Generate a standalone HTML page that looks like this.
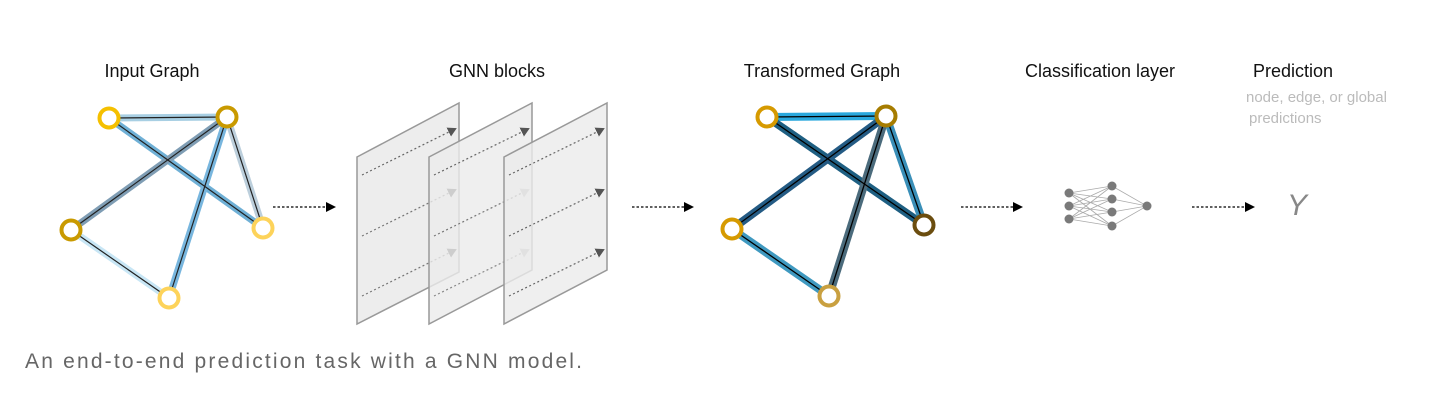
<!DOCTYPE html>
<html><head><meta charset="utf-8"><style>
html,body{margin:0;padding:0;background:#fff;}
svg{display:block;}
text{font-family:"Liberation Sans",sans-serif;}
</style></head><body>
<svg width="1430" height="400" viewBox="0 0 1430 400" xmlns="http://www.w3.org/2000/svg">
<defs>
<marker id="ah" markerWidth="10" markerHeight="10" refX="8" refY="5" orient="auto" markerUnits="userSpaceOnUse"><path d="M0,0 L10,5 L0,10 z" fill="#000"/></marker>
<marker id="ag" markerWidth="9" markerHeight="10" refX="7" refY="5" orient="auto" markerUnits="userSpaceOnUse"><path d="M0,0 L9,5 L0,10 z" fill="#555"/></marker>
<marker id="al" markerWidth="9" markerHeight="10" refX="7" refY="5" orient="auto" markerUnits="userSpaceOnUse"><path d="M0,0 L9,5 L0,10 z" fill="#bbb"/></marker>
</defs>
<g font-size="18" fill="#111" text-anchor="middle">
<text x="152" y="77">Input Graph</text>
<text x="497" y="77">GNN blocks</text>
<text x="822" y="77">Transformed Graph</text>
<text x="1100" y="77">Classification layer</text>
<text x="1293" y="77">Prediction</text>
</g>
<text x="1246" y="102" font-size="15" fill="#bbb">node, edge, or global</text>
<text x="1249" y="123" font-size="15" fill="#bbb">predictions</text>
<text x="25" y="368" font-size="21" fill="#666" textLength="557">An end-to-end prediction task with a GNN model.</text>

<!-- Input graph -->
<g stroke-linecap="butt">
<line x1="109" y1="118" x2="227" y2="117" stroke="#a8cfe3" stroke-width="7"/>
<line x1="109" y1="118" x2="263" y2="228" stroke="#6fb0d6" stroke-width="7"/>
<line x1="227" y1="117" x2="71" y2="230" stroke="#7f9db4" stroke-width="7"/>
<line x1="227" y1="117" x2="169" y2="298" stroke="#78b6de" stroke-width="7"/>
<line x1="227" y1="117" x2="263" y2="228" stroke="#bccfdc" stroke-width="7"/>
<line x1="71" y1="230" x2="169" y2="298" stroke="#c8e6f5" stroke-width="7"/>
<g stroke="#222" stroke-width="1.2">
<line x1="109" y1="118" x2="227" y2="117"/><line x1="109" y1="118" x2="263" y2="228"/>
<line x1="227" y1="117" x2="71" y2="230"/><line x1="227" y1="117" x2="169" y2="298"/>
<line x1="227" y1="117" x2="263" y2="228"/><line x1="71" y1="230" x2="169" y2="298"/>
</g>
</g>
<g fill="#fff" stroke-width="4">
<circle cx="109" cy="118" r="9.5" stroke="#f5c000"/>
<circle cx="227" cy="117" r="9.5" stroke="#c99a00"/>
<circle cx="71" cy="230" r="9.5" stroke="#c99a00"/>
<circle cx="263" cy="228" r="9.5" stroke="#fdd35a"/>
<circle cx="169" cy="298" r="9.5" stroke="#fdd35a"/>
</g>

<!-- arrows -->
<g stroke="#000" stroke-width="1.3" stroke-dasharray="2.5,2" marker-end="url(#ah)">
<line x1="273" y1="207" x2="334" y2="207"/>
<line x1="632" y1="207" x2="692" y2="207"/>
<line x1="961" y1="207" x2="1021" y2="207"/>
<line x1="1192" y1="207" x2="1253" y2="207"/>
</g>

<!-- GNN planes -->
<g stroke-width="1.2" stroke-dasharray="2,2.5" fill="none">
<polygon points="357,157 459,103 459,272 357,324" fill="#ebebeb" fill-opacity="0.9" stroke="#999" stroke-dasharray="none" stroke-width="1.5"/>
<line x1="362" y1="175" x2="455" y2="129" stroke="#666" marker-end="url(#ag)"/>
<line x1="362" y1="236" x2="455" y2="190" stroke="#777" marker-end="url(#ag)"/>
<line x1="362" y1="296" x2="455" y2="250" stroke="#777" marker-end="url(#ag)"/>
<polygon points="429,157 532,103 532,270 429,324" fill="#ebebeb" fill-opacity="0.8" stroke="#999" stroke-dasharray="none" stroke-width="1.5"/>
<line x1="434" y1="175" x2="528" y2="129" stroke="#666" marker-end="url(#ag)"/>
<line x1="434" y1="236" x2="528" y2="190" stroke="#777" marker-end="url(#al)"/>
<line x1="434" y1="296" x2="528" y2="250" stroke="#888" marker-end="url(#al)"/>
<polygon points="504,157 607,103 607,270 504,324" fill="#ebebeb" fill-opacity="0.8" stroke="#999" stroke-dasharray="none" stroke-width="1.5"/>
<line x1="509" y1="175" x2="603" y2="129" stroke="#666" marker-end="url(#ag)"/>
<line x1="509" y1="236" x2="603" y2="190" stroke="#666" marker-end="url(#ag)"/>
<line x1="509" y1="296" x2="603" y2="250" stroke="#666" marker-end="url(#ag)"/>
</g>

<!-- Transformed graph -->
<g>
<line x1="767" y1="117" x2="886" y2="116" stroke="#2aa8dd" stroke-width="8"/>
<line x1="767" y1="117" x2="924" y2="225" stroke="#1e5f82" stroke-width="8"/>
<line x1="886" y1="116" x2="732" y2="229" stroke="#245b84" stroke-width="8"/>
<line x1="886" y1="116" x2="829" y2="296" stroke="#4b6b7c" stroke-width="8"/>
<line x1="886" y1="116" x2="924" y2="225" stroke="#3a8fb8" stroke-width="8"/>
<line x1="732" y1="229" x2="829" y2="296" stroke="#3f99c0" stroke-width="8"/>
<g stroke="#000" stroke-width="1.3">
<line x1="767" y1="117" x2="886" y2="116"/><line x1="767" y1="117" x2="924" y2="225"/>
<line x1="886" y1="116" x2="732" y2="229"/><line x1="886" y1="116" x2="829" y2="296"/>
<line x1="886" y1="116" x2="924" y2="225"/><line x1="732" y1="229" x2="829" y2="296"/>
</g>
</g>
<g fill="#fff" stroke-width="4">
<circle cx="767" cy="117" r="9.5" stroke="#d69a00"/>
<circle cx="886" cy="116" r="9.5" stroke="#a67c00"/>
<circle cx="732" cy="229" r="9.5" stroke="#d69a00"/>
<circle cx="924" cy="225" r="9.5" stroke="#6b4d0f"/>
<circle cx="829" cy="296" r="9.5" stroke="#c9a040"/>
</g>

<!-- NN -->
<g stroke="#aaa" stroke-width="0.8">
<path d="M1069,193L1112,186M1069,193L1112,199M1069,193L1112,212M1069,193L1112,226
M1069,206L1112,186M1069,206L1112,199M1069,206L1112,212M1069,206L1112,226
M1069,219L1112,186M1069,219L1112,199M1069,219L1112,212M1069,219L1112,226
M1112,186L1147,206M1112,199L1147,206M1112,212L1147,206M1112,226L1147,206"/>
</g>
<g fill="#7a7a7a">
<circle cx="1069" cy="193" r="4.5"/><circle cx="1069" cy="206" r="4.5"/><circle cx="1069" cy="219" r="4.5"/>
<circle cx="1112" cy="186" r="4.5"/><circle cx="1112" cy="199" r="4.5"/><circle cx="1112" cy="212" r="4.5"/><circle cx="1112" cy="226" r="4.5"/>
<circle cx="1147" cy="206" r="4.5"/>
</g>
<text x="1287" y="215" font-family="Liberation Serif,serif" font-style="italic" font-size="30" fill="#888">Y</text>
</svg>
</body></html>
